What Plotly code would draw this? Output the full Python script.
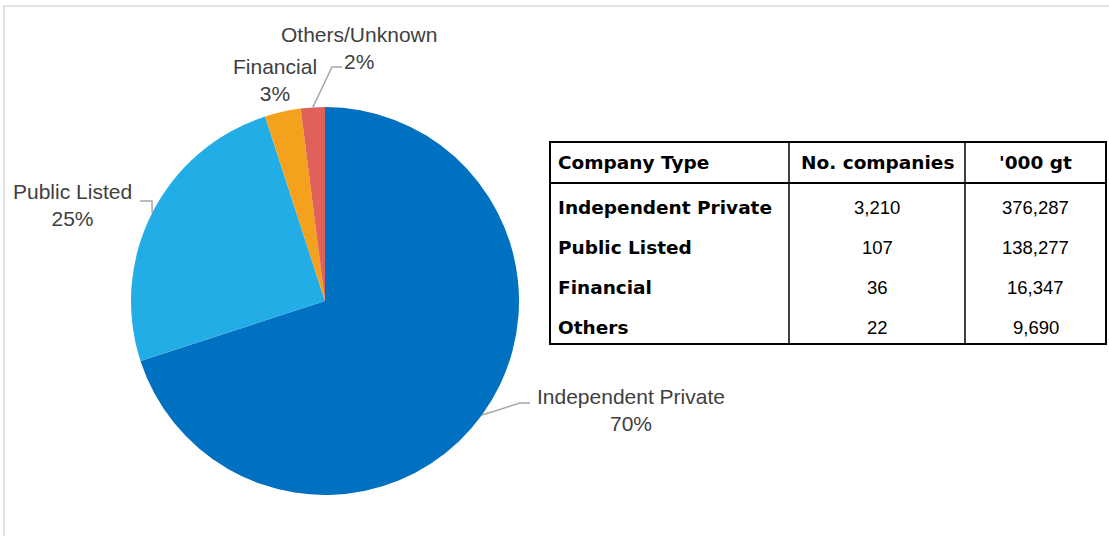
import math
import plotly.graph_objects as go

# Fleet ownership share by company type (percent of gross tonnage)
pie_labels = ["Independent Private", "Public Listed", "Financial", "Others/Unknown"]
pie_share = [70, 25, 3, 2]
pie_colors = ["#0070C0", "#22ADE6", "#F4A21D", "#E0605A"]

# Summary table
table_header = ["Company Type", "No. companies", "'000 gt"]
table_types = ["Independent Private", "Public Listed", "Financial", "Others"]
table_companies = ["3,210", "107", "36", "22"]
table_gt = ["376,287", "138,277", "16,347", "9,690"]

W, H = 1109, 536


def px(x):
    return x / W


def py(y):
    return 1 - y / H


# pie placement in pixels
pie_left, pie_right, pie_top, pie_bottom = 131, 519, 107, 495
cx = (pie_left + pie_right) / 2
cy = (pie_top + pie_bottom) / 2
radius = min(pie_right - pie_left, pie_bottom - pie_top) / 2

fig = go.Figure()
fig.add_trace(go.Pie(
    labels=pie_labels,
    values=pie_share,
    marker=dict(colors=pie_colors, line=dict(width=0)),
    sort=False,
    direction="clockwise",
    rotation=0,
    textinfo="none",
    hoverinfo="label+percent",
    showlegend=False,
    domain=dict(x=[px(pie_left), px(pie_right)], y=[py(pie_bottom), py(pie_top)]),
))

# label text centres and leader line elbows (pixels)
label_pos = {
    "Independent Private": (631, 410),
    "Public Listed": (72, 205),
    "Financial": (275, 80),
    "Others/Unknown": (359, 48),
}
leader_elbow = {
    "Independent Private": [(520, 403), (530, 403)],
    "Public Listed": [(152, 201), (140, 201)],
    "Others/Unknown": [(332, 67), (342, 67)],
}

total = sum(pie_share)
cum = 0
annotations = []
shapes = []
for name, val in zip(pie_labels, pie_share):
    mid = (cum + val / 2) / total * 2 * math.pi
    cum += val
    ex = cx + radius * math.sin(mid)
    ey = cy - radius * math.cos(mid)
    lx, ly = label_pos[name]
    annotations.append(dict(
        x=px(lx), y=py(ly), xref="paper", yref="paper",
        text=f"{name}<br>{round(val / total * 100)}%",
        showarrow=False, xanchor="center", yanchor="middle",
        font=dict(family="Liberation Sans, Arial, sans-serif", size=21, color="#404040"),
    ))
    if name in leader_elbow:
        pts = [(ex, ey)] + leader_elbow[name]
        path = "M " + " L ".join(f"{px(x)},{py(y)}" for x, y in pts)
        shapes.append(dict(type="path", path=path, xref="paper", yref="paper",
                           line=dict(color="#A6A6A6", width=1.5)))

# outer chart frame
shapes.append(dict(type="rect", xref="paper", yref="paper",
                   x0=px(4), x1=1.2, y0=-0.2, y1=py(6),
                   line=dict(color="#D9D9D9", width=1.5)))

# table grid
t_left, t_right, t_top, t_bottom = 550, 1106, 142, 344
header_bottom = 183
col_x = [t_left, 789, 965, t_right]
shapes.append(dict(type="rect", xref="paper", yref="paper",
                   x0=px(t_left), x1=px(t_right), y0=py(t_bottom), y1=py(t_top),
                   line=dict(color="black", width=2)))
shapes.append(dict(type="line", xref="paper", yref="paper",
                   x0=px(t_left), x1=px(t_right), y0=py(header_bottom), y1=py(header_bottom),
                   line=dict(color="black", width=2)))
for x in col_x[1:3]:
    shapes.append(dict(type="line", xref="paper", yref="paper",
                       x0=px(x), x1=px(x), y0=py(t_bottom), y1=py(t_top),
                       line=dict(color="black", width=1.5)))

bold_font = dict(family="DejaVu Sans, sans-serif", size=18.5, color="black", weight="bold")
num_font = dict(family="Liberation Sans, Arial, sans-serif", size=18.5, color="black")

header_y = (t_top + header_bottom) / 2
annotations.append(dict(x=px(556), y=py(header_y), text=table_header[0], showarrow=False,
                        xanchor="left", yanchor="middle", xref="paper", yref="paper", font=bold_font))
for i in (1, 2):
    annotations.append(dict(x=px((col_x[i] + col_x[i + 1]) / 2), y=py(header_y), text=table_header[i],
                            showarrow=False, xanchor="center", yanchor="middle",
                            xref="paper", yref="paper", font=bold_font))

row_h = (t_bottom - header_bottom) / len(table_types)
for r, (typ, comp, gt) in enumerate(zip(table_types, table_companies, table_gt)):
    y = header_bottom + row_h * (r + 0.6)
    annotations.append(dict(x=px(556), y=py(y), text=typ, showarrow=False,
                            xanchor="left", yanchor="middle", xref="paper", yref="paper", font=bold_font))
    annotations.append(dict(x=px((col_x[1] + col_x[2]) / 2), y=py(y), text=comp, showarrow=False,
                            xanchor="center", yanchor="middle", xref="paper", yref="paper", font=num_font))
    annotations.append(dict(x=px((col_x[2] + col_x[3]) / 2), y=py(y), text=gt, showarrow=False,
                            xanchor="center", yanchor="middle", xref="paper", yref="paper", font=num_font))

fig.update_layout(
    width=W, height=H,
    margin=dict(l=0, r=0, t=0, b=0),
    paper_bgcolor="white",
    plot_bgcolor="white",
    annotations=annotations,
    shapes=shapes,
)

fig.write_html("out.html")
